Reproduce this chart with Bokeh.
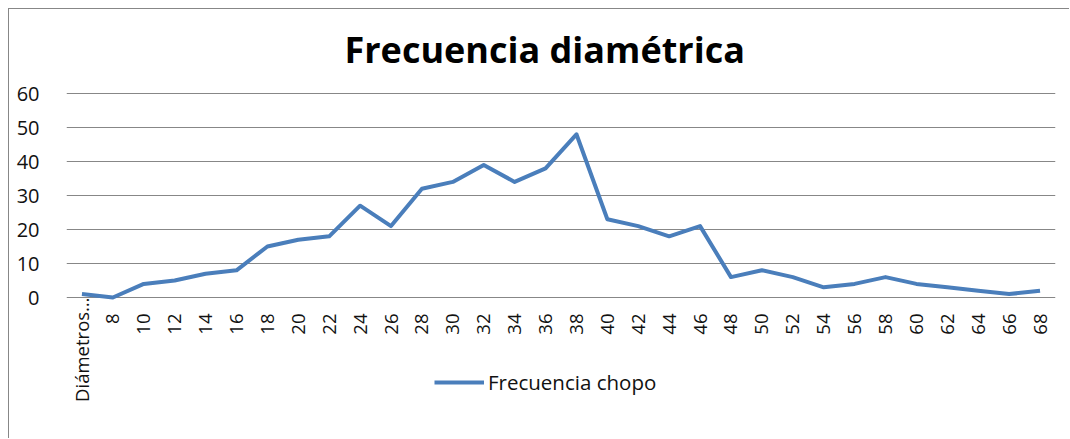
from bokeh.plotting import figure
from bokeh.models import Range1d, FixedTicker, Title, Legend, LegendItem, ColumnDataSource
from bokeh.core.properties import value
from bokeh.embed import file_html
from bokeh.resources import INLINE
import math

categories = ["Diámetros…", "8", "10", "12", "14", "16", "18", "20", "22", "24", "26",
              "28", "30", "32", "34", "36", "38", "40", "42", "44", "46", "48",
              "50", "52", "54", "56", "58", "60", "62", "64", "66", "68"]
frecuencia_chopo = [1, 0, 4, 5, 7, 8, 15, 17, 18, 27, 21,
                    32, 34, 39, 34, 38, 48, 23, 21, 18, 21, 6,
                    8, 6, 3, 4, 6, 4, 3, 2, 1, 2]
y_ticks = [0, 10, 20, 30, 40, 50, 60]

FONT = "Open Sans"
GRAY = "#878787"
TXT = "#111111"

# layout geometry (canvas pixels)
W, H = 1061, 430
B_LEFT, B_RIGHT, B_TOP, B_BOTTOM = 57, 15, 82, 5
TOP_PX, ZERO_PX = 84, 288          # where the top tick and the zero line sit
y_max = max(y_ticks)
k = (ZERO_PX - TOP_PX) / y_max      # pixels per unit
y_hi = y_max + (TOP_PX - B_TOP) / k
y_lo = -((H - B_BOTTOM) - ZERO_PX) / k   # room under the zero line for labels and legend

p = figure(x_range=categories, y_range=Range1d(y_lo, y_hi), width=W, height=H,
           output_backend="svg", toolbar_location=None, x_axis_location=None,
           min_border_left=B_LEFT, min_border_right=B_RIGHT,
           min_border_top=B_TOP, min_border_bottom=B_BOTTOM)
p.styles = {"border-left": "1px solid #878787", "border-top": "1px solid #878787",
            "margin-left": "8px", "margin-top": "8px"}

# truncated (long) label sits right under the axis, short ones a bit lower
label_offsets = [0 if c.endswith("…") else 16 for c in categories]
src = ColumnDataSource(dict(x=categories, y=frecuencia_chopo,
                            base=[0] * len(categories), off=label_offsets))
r = p.line("x", "y", source=src, line_color="#4A7EBB", line_width=4, line_join="round")

# category labels under the value axis
p.text(x="x", y="base", text="x", source=src, angle=math.pi / 2,
       text_align="right", text_baseline="middle", y_offset="off",
       text_font=value(FONT), text_font_size="18.5px", text_color=TXT)

title = Title(text="Frecuencia diamétrica", align="left", vertical_align="top",
              text_font=FONT, text_font_size="36px", text_font_style="bold",
              text_color="#000000", standoff=31, offset=278)
p.add_layout(title, "above")

p.outline_line_color = None
p.xgrid.grid_line_color = None
p.ygrid.grid_line_color = GRAY
p.ygrid.grid_line_width = 1
p.yaxis.ticker = FixedTicker(ticks=y_ticks)

p.yaxis.axis_line_color = None
p.yaxis.major_tick_line_color = None
p.yaxis.minor_tick_line_color = None
p.yaxis.major_tick_out = 0
p.yaxis.major_label_standoff = 27
p.yaxis.major_label_text_font = FONT
p.yaxis.major_label_text_font_size = "20px"
p.yaxis.major_label_text_color = TXT

legend = Legend(items=[LegendItem(label="Frecuencia chopo", renderers=[r])],
                location=(368, 38), orientation="horizontal",
                label_text_font=FONT, label_text_font_size="20.5px", label_text_color=TXT,
                glyph_width=50, label_standoff=4, padding=0, margin=0,
                border_line_color=None, background_fill_alpha=0)
p.add_layout(legend, "center")

open("out.html", "w").write(file_html(p, INLINE))
